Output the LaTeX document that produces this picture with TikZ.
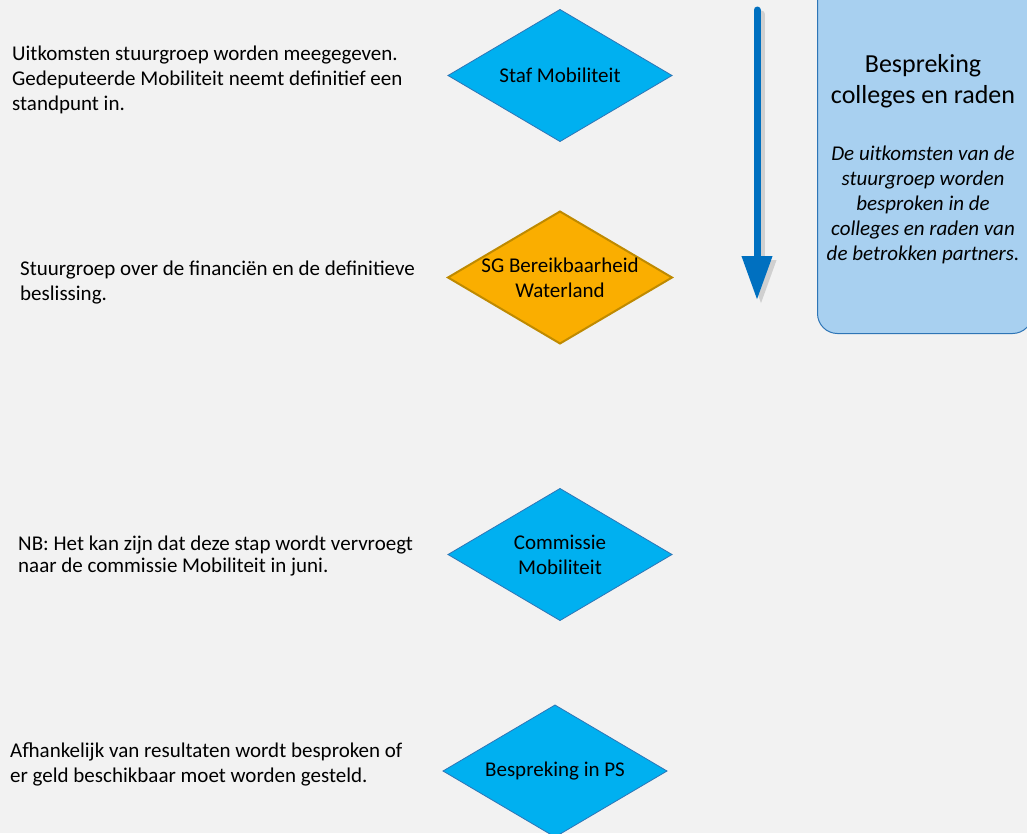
\documentclass[tikz,border=0pt]{standalone}
\usepackage{fontspec}
\setmainfont{Carlito}
\usetikzlibrary{shapes.geometric,arrows.meta}
\definecolor{bg}{RGB}{242,242,242}
\definecolor{cyanfill}{RGB}{0,176,240}
\definecolor{cyanline}{RGB}{46,117,182}
\definecolor{orfill}{RGB}{250,174,0}
\definecolor{orline}{RGB}{191,138,0}
\definecolor{arrowblue}{RGB}{0,112,192}
\definecolor{boxfill}{RGB}{168,208,240}
\definecolor{boxline}{RGB}{46,117,182}
\definecolor{shadowgray}{RGB}{208,208,208}
\tikzset{
  dia/.style={diamond, minimum width=224pt, minimum height=132pt, inner sep=0pt, outer sep=0pt},
  bluedia/.style={dia, fill=cyanfill, draw=cyanline, line width=0.8pt},
  orangedia/.style={dia, fill=orfill, draw=orline, line width=2pt},
  diatext/.style={align=center, inner sep=0pt, font=\fontsize{21}{25}\selectfont, text=black},
  lefttext/.style={align=left, anchor=west, inner sep=0pt, font=\fontsize{21}{25}\selectfont, text=black},
  sidebox/.style={draw=boxline, fill=boxfill, line width=1pt, rounded corners=20pt, minimum width=215pt, minimum height=374pt, anchor=south west, inner sep=0pt},
  flowarrow/.style={line width=7pt, line cap=round, -{Triangle[length=44pt, width=29pt]}}
}
\begin{document}
\begin{tikzpicture}[x=1pt,y=-1pt]
\useasboundingbox (0,0) rectangle (1027,833);
\fill[bg] (0,0) rectangle (1027,833);

% side box
\node[sidebox] (box) at (817,334) {};
\node[align=center, inner sep=0pt, font=\fontsize{26}{31}\selectfont] (boxhead) at (923,81.5) {Bespreking\\colleges en raden};
\node[align=center, inner sep=0pt, font=\fontsize{21}{25}\selectfont\itshape] (boxtext) at (923,204.5) {De uitkomsten van de\\stuurgroep worden\\besproken in de\\colleges en raden van\\de betrokken partners.};

% arrow
\coordinate (atop) at (757,10);
\coordinate (abot) at (757,300);
\coordinate (stop) at (761,14);
\coordinate (sbot) at (761,304);
\draw[flowarrow, draw=shadowgray, fill=shadowgray] (stop) -- (sbot);
\draw[flowarrow, draw=arrowblue, fill=arrowblue] (atop) -- (abot);

% diamonds
\node[bluedia] (d1) at (560,75.5) {};
\node[diatext] (d1t) at (d1) {Staf Mobiliteit};
\node[orangedia] (d2) at (560,277.5) {};
\node[diatext] (d2t) at (d2) {SG Bereikbaarheid\\Waterland};
\node[bluedia] (d3) at (560,554.5) {};
\node[diatext] (d3t) at (d3) {Commissie\\Mobiliteit};
\node[bluedia] (d4) at (555,771) {};
\node[diatext] (d4t) at (d4) {Bespreking in PS};

% left texts
\node[lefttext] (t1) at (12,80) {Uitkomsten stuurgroep worden meegegeven.\\Gedeputeerde Mobiliteit neemt definitief een\\standpunt in.};
\node[lefttext] (t2) at (20,282.5) {Stuurgroep over de financiën en de definitieve\\beslissing.};
\node[lefttext, font=\fontsize{21}{22.5}\selectfont] (t3) at (18,556) {NB: Het kan zijn dat deze stap wordt vervroegt\\naar de commissie Mobiliteit in juni.};
\node[lefttext] (t4) at (10,764.5) {Afhankelijk van resultaten wordt besproken of\\er geld beschikbaar moet worden gesteld.};
\end{tikzpicture}
\end{document}
